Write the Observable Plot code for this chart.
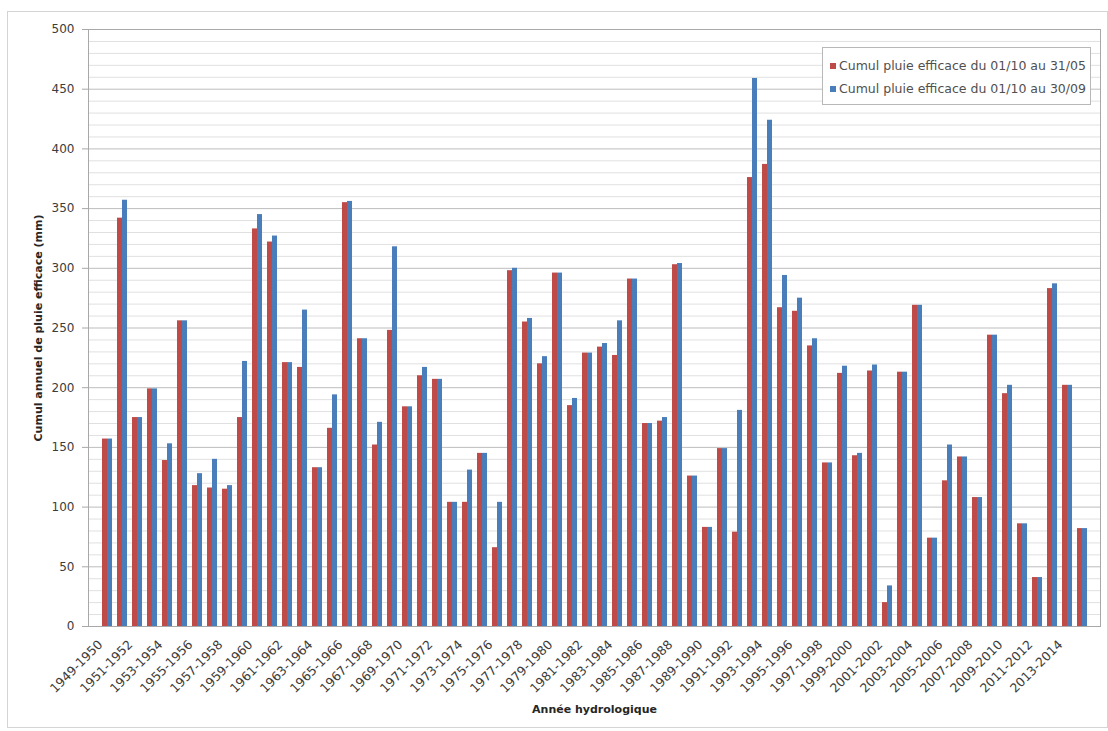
<!DOCTYPE html>
<html lang="fr">
<head>
<meta charset="utf-8">
<title>Cumul annuel de pluie efficace</title>
<script src="https://cdn.jsdelivr.net/npm/d3@7"></script>
<script src="https://cdn.jsdelivr.net/npm/@observablehq/plot@0.6"></script>
<style>
  body { margin: 0; background: #fff; font-family: "DejaVu Sans", sans-serif; }
  #wrap { position: relative; width: 1108px; height: 731px; }
  #border { position: absolute; left: 7px; top: 11px; width: 1099px; height: 715px; border: 1px solid #d4d4d4; pointer-events: none; }
  #legend { position: absolute; left: 822px; top: 47px; width: 269px; height: 58px; border: 1px solid #b8b8b8; background: #fff; box-sizing: border-box; padding: 6px 0 0 7px; font-size: 12.5px; color: #505050; }
  #legend .row { display: flex; align-items: center; height: 23px; white-space: nowrap; }
  #legend .sw { width: 6px; height: 6px; margin-right: 3px; flex: none; }
  svg g[aria-label$="axis label"] text { font-weight: bold; font-size: 11px; fill: #262626; }
</style>
</head>
<body>
<div id="wrap">
  <div id="chart"></div>
  <div id="border"></div>
  <div id="legend"></div>
</div>
<script>
// Hydrological years (October to September)
const years = [
  "1949-1950","1950-1951","1951-1952","1952-1953","1953-1954","1954-1955","1955-1956","1956-1957","1957-1958","1958-1959",
  "1959-1960","1960-1961","1961-1962","1962-1963","1963-1964","1964-1965","1965-1966","1966-1967","1967-1968","1968-1969",
  "1969-1970","1970-1971","1971-1972","1972-1973","1973-1974","1974-1975","1975-1976","1976-1977","1977-1978","1978-1979",
  "1979-1980","1980-1981","1981-1982","1982-1983","1983-1984","1984-1985","1985-1986","1986-1987","1987-1988","1988-1989",
  "1989-1990","1990-1991","1991-1992","1992-1993","1993-1994","1994-1995","1995-1996","1996-1997","1997-1998","1998-1999",
  "1999-2000","2000-2001","2001-2002","2002-2003","2003-2004","2004-2005","2005-2006","2006-2007","2007-2008","2008-2009",
  "2009-2010","2010-2011","2011-2012","2012-2013","2013-2014","2014-2015"
];

// Effective rainfall 01/10 -> 31/05 (mm)
const rainToMay = [
  157, 342, 175, 199, 139, 256, 118, 116, 115, 175,
  333, 322, 221, 217, 133, 166, 355, 241, 152, 248,
  184, 210, 207, 104, 104, 145, 66, 298, 255, 220,
  296, 185, 229, 234, 227, 291, 170, 172, 303, 126,
  83, 149, 79, 376, 387, 267, 264, 235, 137, 212,
  143, 214, 20, 213, 269, 74, 122, 142, 108, 244,
  195, 86, 41, 283, 202, 82
];

// Effective rainfall 01/10 -> 30/09 (mm)
const rainToSep = [
  157, 357, 175, 199, 153, 256, 128, 140, 118, 222,
  345, 327, 221, 265, 133, 194, 356, 241, 171, 318,
  184, 217, 207, 104, 131, 145, 104, 300, 258, 226,
  296, 191, 229, 237, 256, 291, 170, 175, 304, 126,
  83, 149, 181, 459, 424, 294, 275, 241, 137, 218,
  145, 219, 34, 213, 269, 74, 152, 142, 108, 244,
  202, 86, 41, 287, 202, 82
];

const seriesNames = [
  "Cumul pluie efficace du 01/10 au 31/05",
  "Cumul pluie efficace du 01/10 au 30/09"
];
const seriesColors = ["#BE4B48", "#4A7EBB"];

const yTicks = [0, 50, 100, 150, 200, 250, 300, 350, 400, 450, 500];
const xLabelYears = years.filter((d, i) => i % 2 === 0);

const rows = years.map((year, i) => ({ year, may: rainToMay[i], sep: rainToSep[i] }));
const minorGrid = d3.range(10, 500, 10).filter(v => v % 50 !== 0);

const chart = Plot.plot({
  width: 1108,
  height: 731,
  marginLeft: 88,
  marginRight: 8,
  marginTop: 29,
  marginBottom: 105,
  style: { fontFamily: "DejaVu Sans, sans-serif", fontSize: "12px", color: "#3c3c3c", background: "transparent" },
  x: { domain: years, padding: 0.35 },
  y: { domain: [0, 500] },
  marks: [
    Plot.ruleY(minorGrid, { stroke: "#e0e0e0" }),
    Plot.ruleY(yTicks, { stroke: "#bdbdbd" }),
    Plot.barY(rows, { x: "year", y: "may", fill: seriesColors[0], insetRight: 5 }),
    Plot.barY(rows, { x: "year", y: "sep", fill: seriesColors[1], insetLeft: 5 }),
    Plot.frame({ stroke: "#a8a8a8" }),
    Plot.axisY({
      ticks: yTicks, tickSize: 6, tickPadding: 8, stroke: "#a8a8a8",
      label: "Cumul annuel de pluie efficace (mm)", labelAnchor: "center", labelArrow: "none", labelOffset: 54
    }),
    Plot.axisX({
      ticks: xLabelYears, tickSize: 0, tickPadding: 9, tickRotate: -45, fontSize: 12.5, dx: -7, dy: 7,
      label: "Année hydrologique", labelAnchor: "center", labelArrow: "none", labelOffset: 86
    })
  ]
});
document.getElementById("chart").appendChild(chart);

// Legend inside the plot area
const legend = d3.select("#legend");
seriesNames.forEach((name, i) => {
  const row = legend.append("div").attr("class", "row");
  row.append("span").attr("class", "sw").style("background", seriesColors[i]);
  row.append("span").text(name);
});
</script>
</body>
</html>
